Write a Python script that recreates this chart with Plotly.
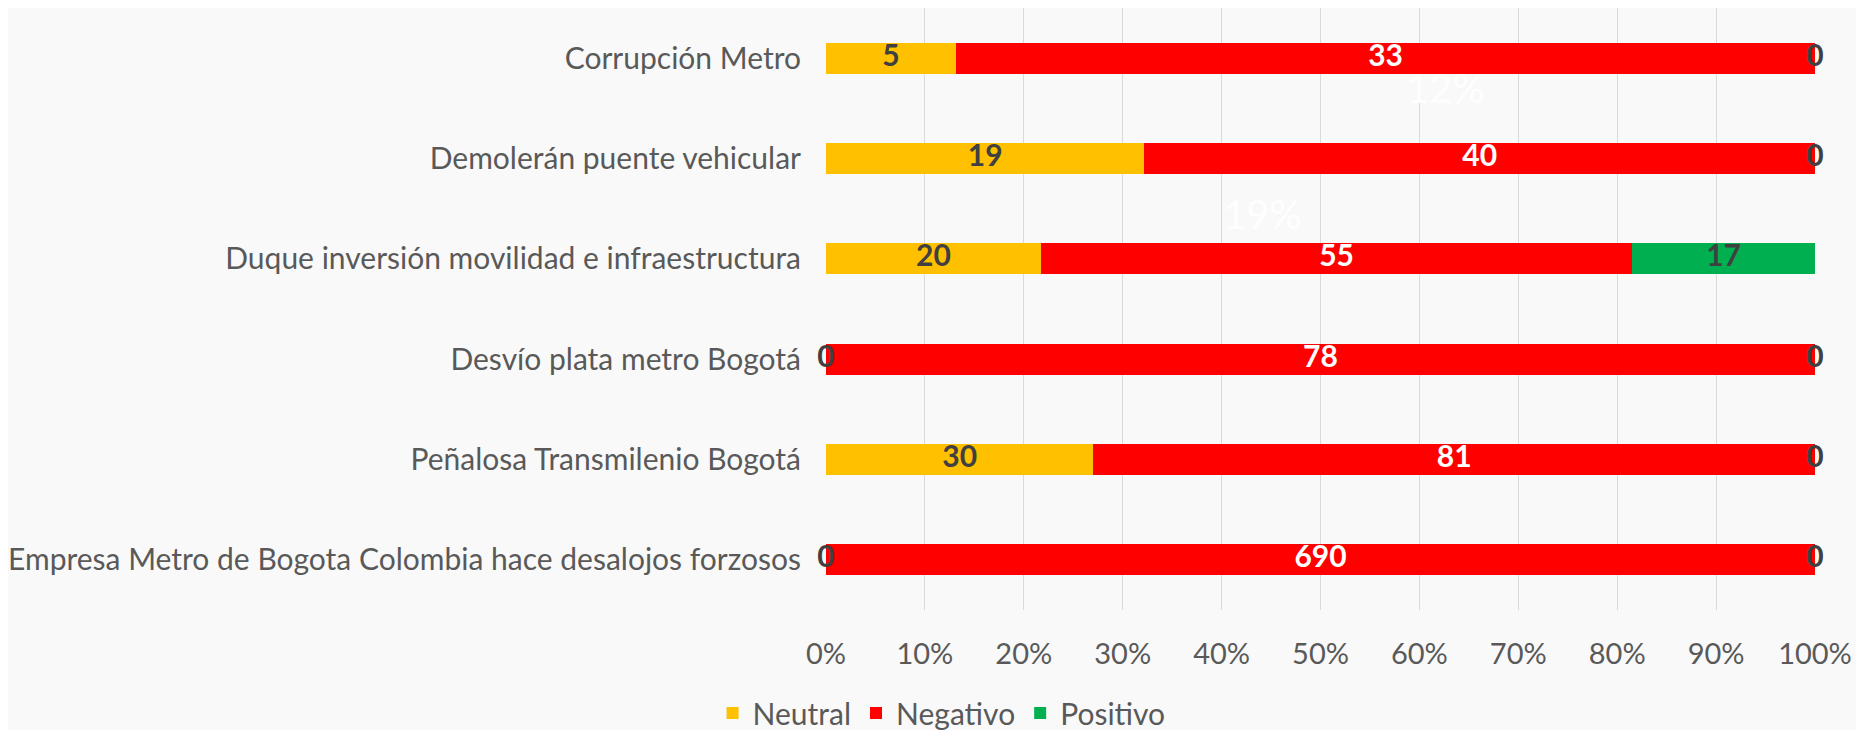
import plotly.graph_objects as go

categories = [
    "Corrupción Metro",
    "Demolerán puente vehicular",
    "Duque inversión movilidad e infraestructura",
    "Desvío plata metro Bogotá",
    "Peñalosa Transmilenio Bogotá",
    "Empresa Metro de Bogota Colombia hace desalojos forzosos",
]
neutral = [5, 19, 20, 0, 30, 0]
negativo = [33, 40, 55, 78, 81, 690]
positivo = [0, 0, 17, 0, 0, 0]
x_ticks = [0, 0.1, 0.2, 0.3, 0.4, 0.5, 0.6, 0.7, 0.8, 0.9, 1.0]

series = [
    ("Neutral", neutral, "#FFC000", "#404040"),
    ("Negativo", negativo, "#FF0000", "#FFFFFF"),
    ("Positivo", positivo, "#00B050", "#404040"),
]

FONT = "Lato"
fig = go.Figure()

totals = [n + g + p for n, g, p in zip(neutral, negativo, positivo)]
for name, vals, color, _ in series:
    fig.add_trace(go.Bar(
        name=name, y=categories, x=vals, orientation="h",
        marker=dict(color=color, line=dict(width=0)),
        hoverinfo="skip",
    ))

# data labels via scatter text at segment midpoints
cum = [0.0] * len(categories)
for name, vals, color, tcolor in series:
    xs = []
    for i, v in enumerate(vals):
        frac = v / totals[i]
        xs.append(cum[i] + frac / 2)
        cum[i] += frac
    fig.add_trace(go.Scatter(
        x=xs, y=categories, mode="text", text=[str(v) for v in vals],
        textfont=dict(family=FONT, size=30, color=tcolor, weight="bold"),
        showlegend=False, hoverinfo="skip", cliponaxis=False,
    ))

fig.update_layout(
    width=1856, height=722,
    barmode="stack", barnorm="fraction", bargap=0.69,
    paper_bgcolor="#f9f9f9", plot_bgcolor="rgba(0,0,0,0)",
    margin=dict(l=809, r=49, t=0, b=120),
    font=dict(family=FONT, color="#595959", size=30),
    xaxis=dict(
        range=[0, 1], tickvals=x_ticks, tickformat=".0%",
        showgrid=True, gridcolor="#d9d9d9", gridwidth=1,
        zeroline=False, showline=False,
        tickfont=dict(size=29, color="#595959"),
        ticklabelstandoff=24,
    ),
    yaxis=dict(
        autorange="reversed", showgrid=False, zeroline=False,
        tickfont=dict(size=30, color="#595959"),
        ticklabelstandoff=24,
    ),
    legend=dict(
        orientation="h", xref="container", yref="container",
        x=0.503, y=0.0235, xanchor="center", yanchor="middle",
        font=dict(size=30, color="#595959"), bgcolor="rgba(0,0,0,0)",
        traceorder="normal",
    ),
    annotations=[
        dict(text="12%", xref="paper", yref="paper", x=0.626, y=0.867,
             xanchor="center", yanchor="middle",
             showarrow=False, font=dict(family=FONT, size=40, color="rgba(255,255,255,0.95)")),
        dict(text="19%", xref="paper", yref="paper", x=0.441, y=0.658,
             xanchor="center", yanchor="middle",
             showarrow=False, font=dict(family=FONT, size=40, color="rgba(255,255,255,0.95)")),
    ],
)

fig.write_html("out.html")
